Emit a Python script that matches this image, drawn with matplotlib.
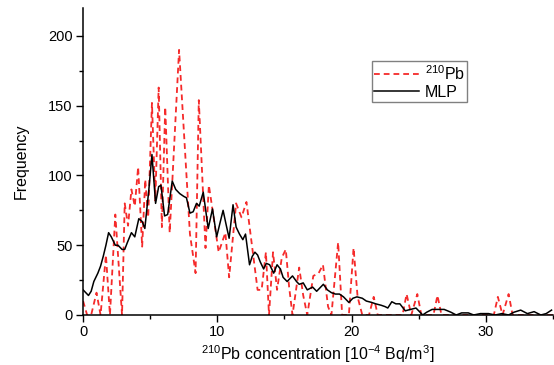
import matplotlib
matplotlib.use("Agg")
import matplotlib.pyplot as plt
from matplotlib.ticker import MultipleLocator

plt.rcParams['font.family'] = ['Liberation Sans', 'DejaVu Sans']
plt.rcParams['mathtext.fontset'] = 'custom'
plt.rcParams['mathtext.rm'] = 'Liberation Sans'
plt.rcParams['mathtext.it'] = 'Liberation Sans:italic'

# 210Pb observed histogram (red dashed)
pb_x = [0.0, 0.3, 0.6, 1.0, 1.3, 1.7, 2.0, 2.4, 2.9, 3.1, 3.35, 3.6, 3.85, 4.1, 4.4,
        4.63, 4.85, 5.13, 5.38, 5.63, 5.87, 6.12, 6.45, 7.15, 7.96, 8.38, 8.62, 9.12,
        9.37, 9.57, 10.1, 10.6, 10.88, 11.4, 11.8, 12.17, 13.0, 13.3, 13.62, 13.85,
        14.15, 14.45, 14.8, 15.1, 15.35, 15.6, 16.1, 16.4, 16.7, 17.15, 17.55, 17.87,
        18.25, 18.5, 19.0, 19.3, 19.8, 20.15, 20.45, 20.8, 21.3, 21.65, 21.95, 23.8,
        24.1, 24.45, 24.9, 25.2, 26.1, 26.4, 26.7, 30.6, 30.9, 31.25, 31.7, 32.0, 35.0]
pb_y = [10, 0, 0, 16, 0, 43, 0, 72, 0, 80, 64, 90, 78, 106, 49,
        97, 70, 152, 82, 163, 63, 149, 59, 190, 58, 30, 154, 48,
        93, 80, 45, 59, 27, 80, 70, 81, 18, 18, 45, 0,
        45, 18, 41, 47, 20, 0, 34, 14, 0, 28, 30, 36,
        6, 0, 52, 0, 0, 48, 13, 0, 0, 13, 0, 0,
        15, 0, 15, 0, 0, 14, 0, 0, 13, 0, 15, 0, 0]

# MLP model output (black solid)
mlp_x = [0.0, 0.2, 0.4, 0.6, 0.8, 1.1, 1.3, 1.5, 1.7, 1.9, 2.1, 2.4, 2.6, 2.9, 3.1,
         3.3, 3.6, 3.85, 4.15, 4.4, 4.6, 4.9, 5.13, 5.4, 5.63, 5.8, 6.07, 6.3, 6.64,
         6.9, 7.2, 7.5, 7.7, 7.96, 8.2, 8.45, 8.65, 8.95, 9.32, 9.64, 9.95, 10.2,
         10.43, 10.65, 10.88, 11.17, 11.4, 11.65, 11.9, 12.1, 12.4, 12.6, 12.8, 13.0,
         13.2, 13.45, 13.65, 13.9, 14.2, 14.45, 14.7, 14.9, 15.2, 15.6, 15.9, 16.1,
         16.4, 16.7, 17.1, 17.4, 17.9, 18.2, 18.5, 18.8, 19.1, 19.4, 19.8, 20.1, 20.4,
         20.8, 21.1, 21.5, 21.8, 22.2, 22.5, 22.7, 23.0, 23.3, 23.6, 24.0, 24.4, 24.8,
         25.3, 25.6, 26.0, 26.4, 26.9, 27.4, 27.8, 28.2, 28.7, 29.1, 29.6, 30.2, 30.7,
         31.2, 31.7, 32.1, 32.6, 33.1, 33.6, 34.1, 34.5, 34.9]
mlp_y = [18, 16, 14, 17, 24, 30, 35, 42, 50, 59, 56, 50, 50, 47, 47,
         52, 59, 56, 69, 67, 62, 90, 115, 80, 92, 93, 71, 72, 96,
         90, 87, 85, 84, 73, 74, 80, 78, 88, 62, 76, 56, 66,
         75, 65, 55, 79, 63, 58, 54, 58, 36, 42, 45, 43,
         38, 33, 37, 36, 30, 36, 33, 27, 24, 28, 24, 22,
         23, 18, 20, 17, 22, 18, 16, 15, 15, 13, 9, 12, 13,
         12, 10, 9, 8, 7, 6, 5, 9.5, 8, 8, 3, 4, 5,
         0, 2, 4, 4, 4, 2, 0, 1.5, 1.5, 0, 1, 1, 0,
         1, 0, 2, 3.5, 1, 2.4, 0, 1, 3.5]

x_ticks = [0, 10, 20, 30]
y_ticks = [0, 50, 100, 150, 200]

fig = plt.figure(figsize=(5.54, 3.65), dpi=100)
ax = fig.add_axes([0.150, 0.137, 0.848, 0.841])

ax.plot(pb_x, pb_y, color='#f52a2a', lw=1.3, ls=(0, (3.2, 2.2)),
        label=r'$^{210}$Pb')
ax.plot(mlp_x, mlp_y, color='black', lw=1.1, label='MLP')

ax.set_xlim(0, 35)
ax.set_ylim(0, 220)
ax.set_xticks(x_ticks)
ax.set_yticks(y_ticks)
ax.xaxis.set_minor_locator(MultipleLocator(5))
ax.yaxis.set_minor_locator(MultipleLocator(25))
ax.tick_params(which='major', direction='out', length=5, width=1, labelsize=10.5, pad=2.5)
ax.tick_params(which='minor', direction='out', length=3, width=1)
for s in ['top', 'right']:
    ax.spines[s].set_visible(False)
for s in ['left', 'bottom']:
    ax.spines[s].set_linewidth(1.1)

ax.set_ylabel('Frequency', fontsize=11.5, labelpad=14)
ax.set_xlabel(r'$^{210}$Pb concentration [10$^{-4}$ Bq/m$^3$]', fontsize=11.5, labelpad=3)

leg = ax.legend(loc='upper left', bbox_to_anchor=(0.615, 0.826), fontsize=11.5,
                frameon=True, fancybox=False, edgecolor='#606060',
                handlelength=2.8, borderpad=0.15, labelspacing=0.15,
                handletextpad=0.35, borderaxespad=0)
leg.get_frame().set_linewidth(1.0)

fig.savefig('out.png', dpi=100)
